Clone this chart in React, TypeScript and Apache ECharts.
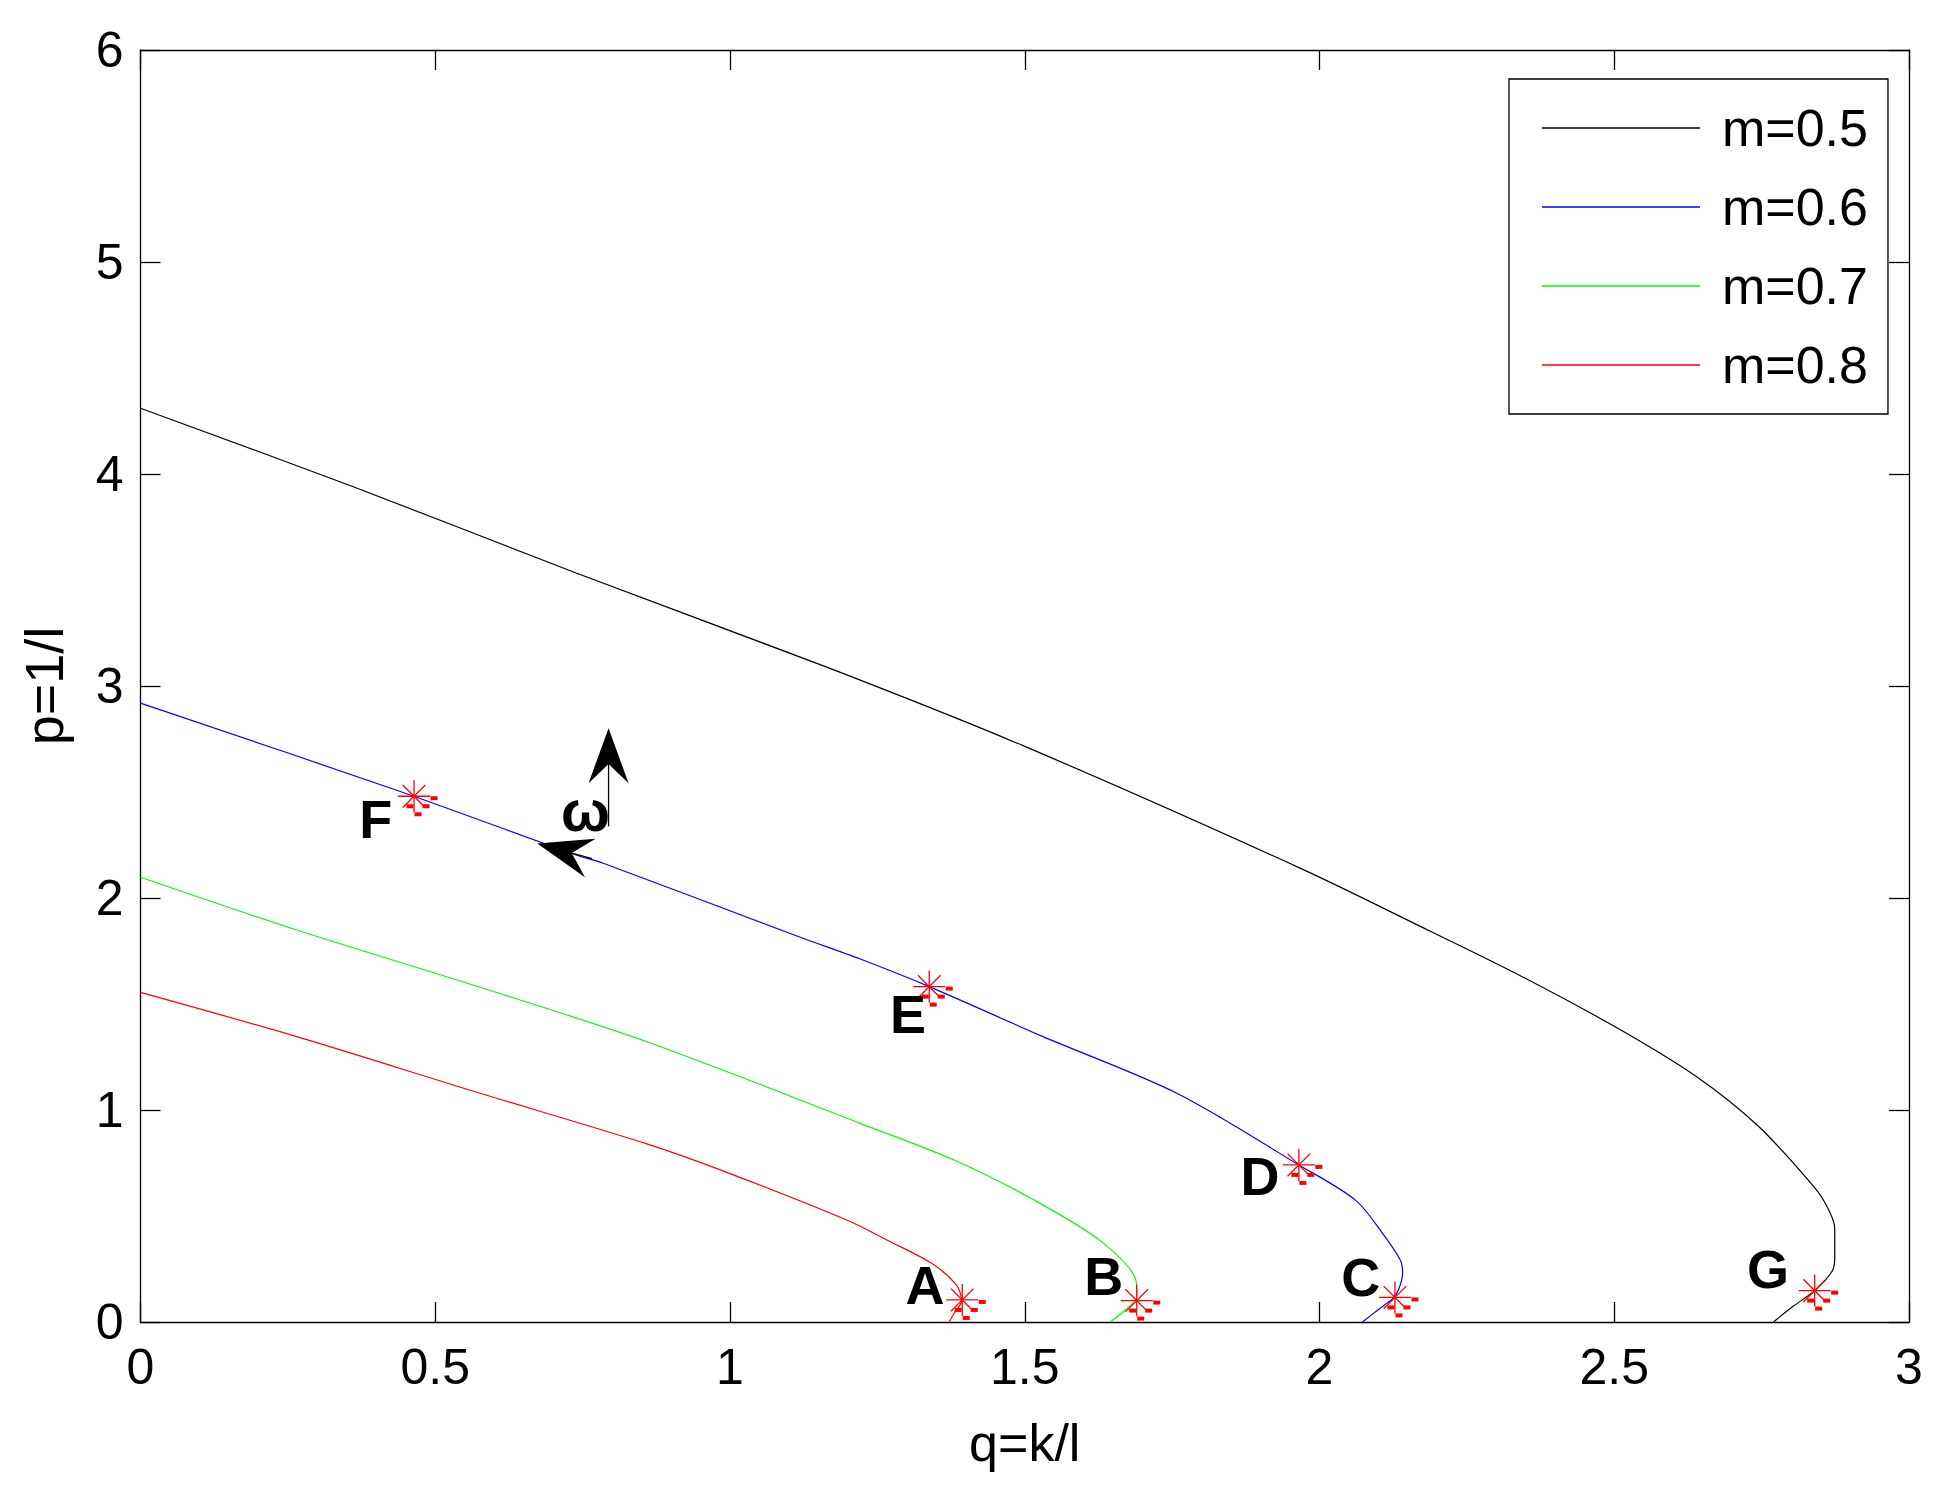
import React, { useEffect, useRef } from "react";
import * as echarts from "echarts";

const FONT = "'Liberation Sans', Arial, Helvetica, sans-serif";

const seriesNames = ["m=0.5", "m=0.6", "m=0.7", "m=0.8"];
const seriesColors = ["#000000", "#0000ff", "#00ff00", "#ff0000"];

const xRange = [0, 3];
const xStep = 0.5;
const yRange = [0, 6];
const yStep = 1;

const curveM05: number[][] = [
  [0, 4.31], [0.361, 3.94], [0.739, 3.533], [1.163, 3.09], [1.5, 2.715],
  [1.967, 2.141], [2.188, 1.843], [2.343, 1.63], [2.503, 1.39], [2.638, 1.16],
  [2.745, 0.922], [2.832, 0.66], [2.856, 0.57], [2.874, 0.442], [2.874, 0.3],
  [2.869, 0.237], [2.84, 0.148], [2.804, 0.075], [2.77, 0],
];
const curveM06: number[][] = [
  [0, 2.919], [0.437, 2.506], [0.739, 2.203], [0.785, 2.164], [1.118, 1.816],
  [1.221, 1.712], [1.338, 1.582], [1.531, 1.346], [1.758, 1.079], [1.965, 0.741],
  [2.061, 0.575], [2.107, 0.418], [2.137, 0.292], [2.141, 0.23], [2.134, 0.152],
  [2.124, 0.11], [2.099, 0.057], [2.073, 0],
];
const curveM07: number[][] = [
  [0, 2.098], [0.265, 1.849], [0.576, 1.579], [0.859, 1.322],
  [1.221, 0.937], [1.38, 0.764], [1.516, 0.575], [1.63, 0.379], [1.689, 0.19],
  [1.69, 0.12], [1.672, 0.06], [1.645, 0],
];
const curveM08: number[][] = [
  [0, 1.555], [0.265, 1.346], [0.576, 1.079], [0.859, 0.84], [1.0, 0.7],
  [1.198, 0.481], [1.266, 0.387], [1.342, 0.277], [1.384, 0.175], [1.393, 0.1],
  [1.38, 0.04], [1.372, 0],
];
const curves = [curveM05, curveM06, curveM07, curveM08];

// red asterisk markers
const starPoints: number[][] = [
  [1.394, 0.104], [1.69, 0.101], [2.128, 0.116], [1.965, 0.741],
  [1.338, 1.582], [0.464, 2.48], [2.84, 0.148],
];
// point letters [q, p]
const letterTexts = ["A", "B", "C", "D", "E", "F", "G", "ω"];
const letterPos: number[][] = [
  [1.331, 0.175], [1.634, 0.217], [2.07, 0.212], [1.899, 0.689],
  [1.302, 1.453], [0.399, 2.373], [2.761, 0.25], [0.755, 2.413],
];
// arrows [qTail, pTail, qTip, pTip]
const arrows: number[][] = [
  [0.794, 2.338, 0.794, 2.801],
  [0.766, 2.186, 0.673, 2.257],
];

export default function App() {
  const ref = useRef<HTMLDivElement>(null);

  useEffect(() => {
    if (!ref.current) return;
    const chart = echarts.init(ref.current, undefined, { renderer: "svg" });

    const axisLine = { show: true, onZero: false, lineStyle: { color: "#000", width: 1.3 } };
    const axisTick = { show: true, inside: true, length: 20, lineStyle: { color: "#000", width: 1.3 } };

    const lineSeries = curves.map((c, i) => ({
      name: seriesNames[i],
      type: "line",
      data: c,
      symbol: "none",
      showSymbol: false,
      smooth: 0.3,
      lineStyle: { color: seriesColors[i], width: 1.2 },
      itemStyle: { color: seriesColors[i] },
      z: 3,
    }));

    const option: any = {
      animation: false,
      backgroundColor: "#ffffff",
      grid: { left: 140.5, right: 41, top: 50, bottom: 169, containLabel: false },
      legend: {
        data: seriesNames.map((n) => ({ name: n, icon: "rect" })),
        orient: "vertical",
        left: 1509,
        top: 79,
        padding: [23, 20, 23, 33],
        itemWidth: 158,
        itemHeight: 1.5,
        itemGap: 27,
        borderColor: "#000",
        borderWidth: 1.3,
        backgroundColor: "#ffffff",
        selectedMode: false,
        textStyle: { fontSize: 52, lineHeight: 52, color: "#000", fontFamily: FONT, padding: [0, 0, 0, 17] },
        z: 10,
      },
      xAxis: [
        {
          type: "value", min: xRange[0], max: xRange[1], interval: xStep, position: "bottom",
          name: "q=k/l", nameLocation: "middle", nameGap: 95,
          nameTextStyle: { fontSize: 52, color: "#000", fontFamily: FONT },
          axisLine, axisTick,
          axisLabel: { fontSize: 50, color: "#000", margin: 20, fontFamily: FONT },
          splitLine: { show: false },
        },
        {
          type: "value", min: xRange[0], max: xRange[1], interval: xStep, position: "top",
          axisLine, axisTick, axisLabel: { show: false }, splitLine: { show: false },
        },
      ],
      yAxis: [
        {
          type: "value", min: yRange[0], max: yRange[1], interval: yStep, position: "left",
          name: "p=1/l", nameLocation: "middle", nameGap: 70,
          nameTextStyle: { fontSize: 54, color: "#000", fontFamily: FONT },
          axisLine, axisTick,
          axisLabel: { fontSize: 50, color: "#000", margin: 17, fontFamily: FONT },
          splitLine: { show: false },
        },
        {
          type: "value", min: yRange[0], max: yRange[1], interval: yStep, position: "right",
          axisLine, axisTick, axisLabel: { show: false }, splitLine: { show: false },
        },
      ],
      series: [
        ...lineSeries,
        {
          type: "custom",
          name: "stars",
          data: starPoints,
          z: 5,
          renderItem: (params: any, api: any) => {
            const c = api.coord([api.value(0), api.value(1)]);
            const r = 16;
            const d = r * 0.707;
            const ls = { stroke: "#ff0000", lineWidth: 1.3 };
            const rs = { fill: "#ff0000" };
            const rect = (ox: number, oy: number) => ({
              type: "rect",
              shape: { x: c[0] + ox - 3.5, y: c[1] + oy - 2, width: 7, height: 4 },
              style: rs,
            });
            return {
              type: "group",
              children: [
                { type: "line", shape: { x1: c[0] - r, y1: c[1], x2: c[0] + r, y2: c[1] }, style: ls },
                { type: "line", shape: { x1: c[0], y1: c[1] - r, x2: c[0], y2: c[1] + r }, style: ls },
                { type: "line", shape: { x1: c[0] - d, y1: c[1] - d, x2: c[0] + d, y2: c[1] + d }, style: ls },
                { type: "line", shape: { x1: c[0] - d, y1: c[1] + d, x2: c[0] + d, y2: c[1] - d }, style: ls },
                rect(20, 2),
                rect(-4, 10),
                rect(12, 10),
                rect(4, 18),
              ],
            };
          },
        },
        {
          type: "custom",
          name: "letters",
          data: letterPos,
          z: 6,
          renderItem: (params: any, api: any) => {
            const c = api.coord([api.value(0), api.value(1)]);
            const t = letterTexts[params.dataIndex];
            return {
              type: "text",
              x: c[0],
              y: c[1],
              style: {
                text: t,
                fontSize: t === "ω" ? 58 : 54,
                fontWeight: "bold",
                fontFamily: FONT,
                fill: "#000",
                align: "center",
                verticalAlign: "middle",
              },
            };
          },
        },
        {
          type: "custom",
          name: "arrows",
          data: arrows,
          z: 7,
          renderItem: (params: any, api: any) => {
            const s = api.coord([api.value(0), api.value(1)]);
            const t = api.coord([api.value(2), api.value(3)]);
            const dx = t[0] - s[0];
            const dy = t[1] - s[1];
            const len = Math.hypot(dx, dy) || 1;
            const ux = dx / len, uy = dy / len;
            const nx = -uy, ny = ux;
            const L = 55, W = 40;
            const pts = [
              [t[0], t[1]],
              [t[0] - ux * L + nx * W / 2, t[1] - uy * L + ny * W / 2],
              [t[0] - ux * L * 0.65, t[1] - uy * L * 0.65],
              [t[0] - ux * L - nx * W / 2, t[1] - uy * L - ny * W / 2],
            ];
            return {
              type: "group",
              children: [
                { type: "line", shape: { x1: s[0], y1: s[1], x2: t[0] - ux * 20, y2: t[1] - uy * 20 }, style: { stroke: "#000", lineWidth: 1.3 } },
                { type: "polygon", shape: { points: pts }, style: { fill: "#000" } },
              ],
            };
          },
        },
      ],
    };

    chart.setOption(option);
    return () => chart.dispose();
  }, []);

  return (
    <div
      ref={ref}
      style={{ position: "absolute", left: 0, top: 0, width: 1950, height: 1491, background: "#fff" }}
    />
  );
}
